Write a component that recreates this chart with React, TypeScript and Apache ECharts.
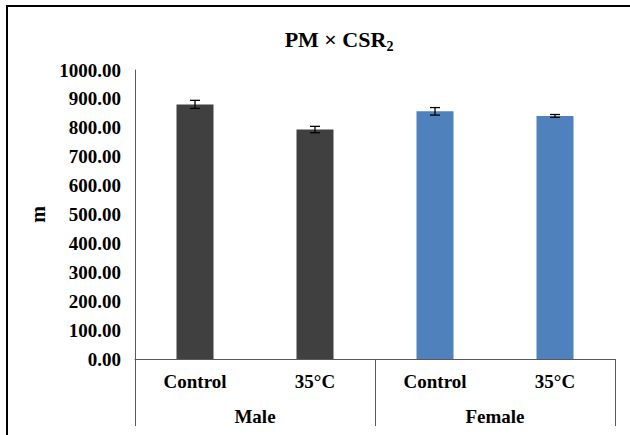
import React, { useEffect, useRef } from "react";
import * as echarts from "echarts";

const categories = ["Control", "35°C", "Control", "35°C"];
const groups = ["Male", "Female"];
const means = [881, 794, 857, 841];
const errors = [14, 11, 13, 5];
const barColors = ["#404040", "#404040", "#4f81bd", "#4f81bd"];
const yTicks = { min: 0, max: 1000, interval: 100 };

const FONT = "Liberation Serif";
const labelRich = {
  l: { fontFamily: FONT, fontWeight: "bold", fontSize: 19, color: "#000" },
};

export default function App() {
  const ref = useRef<HTMLDivElement>(null);
  useEffect(() => {
    if (!ref.current) return;
    const chart = echarts.init(ref.current, null, { renderer: "svg" });
    const errData = means.map((m, i) => [i, m - errors[i], m + errors[i]]);
    chart.setOption({
      animation: false,
      backgroundColor: "#ffffff",
      textStyle: { fontFamily: FONT },
      grid: { left: 135, right: 15, top: 70, bottom: 76, containLabel: false },
      graphic: [
        {
          type: "rect",
          shape: { x: 7, y: 6, width: 700, height: 500 },
          style: { fill: "none", stroke: "#000", lineWidth: 2 },
          silent: true,
        },
        {
          type: "text",
          x: 339,
          y: 39,
          style: {
            text: "{a|PM × CSR}{s|2}",
            align: "center",
            verticalAlign: "middle",
            rich: {
              a: { fontFamily: FONT, fontWeight: "bold", fontSize: 22, lineHeight: 28, fill: "#000" },
              s: { fontFamily: FONT, fontWeight: "bold", fontSize: 14, lineHeight: 14, verticalAlign: "bottom", fill: "#000" },
            },
          },
        },
      ],
      xAxis: [
        {
          type: "category",
          data: categories,
          position: "bottom",
          axisLine: { show: true, lineStyle: { color: "#595959", width: 1 } },
          axisTick: { show: false },
          axisLabel: {
            interval: 0,
            margin: 13,
            fontFamily: FONT,
            fontWeight: "bold",
            fontSize: 19,
            color: "#000",
            formatter: (v: string) => `{l|${v}}`,
            rich: labelRich,
          },
        },
        {
          type: "category",
          data: groups,
          position: "bottom",
          offset: 0,
          axisLine: { show: false },
          axisTick: { show: true, length: 67, interval: 0, lineStyle: { color: "#595959", width: 1 } },
          axisLabel: {
            interval: 0,
            margin: 48,
            fontFamily: FONT,
            fontWeight: "bold",
            fontSize: 19,
            color: "#000",
            formatter: (v: string) => `{l|${v}}`,
            rich: labelRich,
          },
        },
      ],
      yAxis: {
        type: "value",
        min: yTicks.min,
        max: yTicks.max,
        interval: yTicks.interval,
        name: "m",
        nameLocation: "middle",
        nameGap: 84,
        nameRotate: 90,
        nameTextStyle: { color: "#000", fontFamily: FONT, fontWeight: "bold", fontSize: 20 },
        axisLine: { show: true, lineStyle: { color: "#595959", width: 1 } },
        axisTick: { show: false },
        splitLine: { show: false },
        axisLabel: {
          margin: 14,
          fontFamily: FONT,
          fontWeight: "bold",
          fontSize: 19,
          color: "#000",
          formatter: (v: number) => `{l|${v.toFixed(2)}}`,
          rich: labelRich,
        },
      },
      series: [
        {
          type: "bar",
          xAxisIndex: 0,
          barWidth: 37,
          data: means.map((v, i) => ({ value: v, itemStyle: { color: barColors[i] } })),
        },
        {
          type: "custom",
          xAxisIndex: 0,
          data: errData,
          z: 10,
          renderItem: (params: any, api: any) => {
            const idx = api.value(0);
            const lo = api.coord([idx, api.value(1)]);
            const hi = api.coord([idx, api.value(2)]);
            const cap = 5;
            const st = { stroke: "#000", lineWidth: 1.3 };
            return {
              type: "group",
              children: [
                { type: "line", shape: { x1: lo[0], y1: lo[1], x2: hi[0], y2: hi[1] }, style: st },
                { type: "line", shape: { x1: hi[0] - cap, y1: hi[1], x2: hi[0] + cap, y2: hi[1] }, style: st },
                { type: "line", shape: { x1: lo[0] - cap, y1: lo[1], x2: lo[0] + cap, y2: lo[1] }, style: st },
              ],
            };
          },
        },
      ],
    });
    return () => chart.dispose();
  }, []);
  return (
    <div
      ref={ref}
      style={{ position: "absolute", left: 0, top: 0, width: 630, height: 435, background: "#fff" }}
    />
  );
}
